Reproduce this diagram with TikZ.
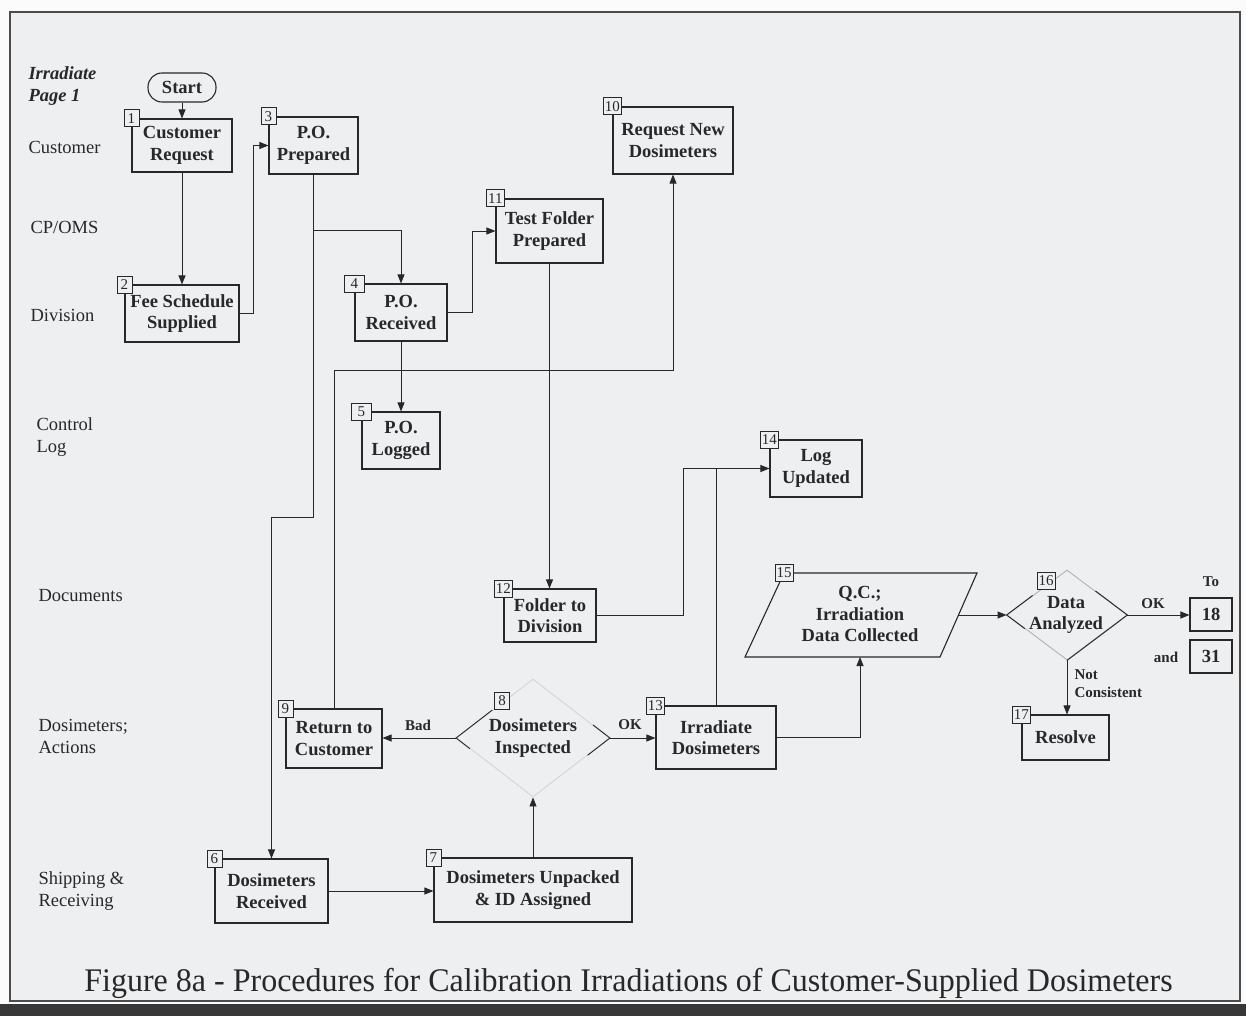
\documentclass[tikz,border=0pt]{standalone}
\usepackage{fontspec}
\setmainfont{Liberation Serif}
\usetikzlibrary{shapes.geometric,arrows.meta,calc}
\definecolor{bg}{RGB}{238,239,241}
\definecolor{ink}{RGB}{40,40,40}
\definecolor{faint}{RGB}{212,213,215}
\tikzset{
  box/.style={draw=ink, line width=1.1pt, fill=bg, align=center, inner sep=0pt,
    text=ink, font=\bfseries\fontsize{18.5}{21.5}\selectfont},
  numlbl/.style={draw=ink, line width=0.9pt, fill=bg, inner sep=1.5pt, minimum height=17pt,
    minimum width=15pt, text=ink, font=\fontsize{15}{15}\selectfont},
  lane/.style={anchor=west, align=left, text=ink, font=\fontsize{18.5}{22}\selectfont},
  elbl/.style={text=ink, font=\bfseries\fontsize{15}{18}\selectfont},
  conn/.style={draw=ink, line width=0.9pt, -{Triangle[length=9pt,width=7pt]}},
  plain/.style={draw=ink, line width=0.9pt},
  dshape/.style={diamond, draw=faint, line width=0.9pt, inner sep=0pt},
}
\begin{document}
\begin{tikzpicture}[x=1pt,y=-1pt]
\useasboundingbox (0,0) rectangle (1246,1016);
\fill[white!97!gray] (0,0) rectangle (1246,1016);
\fill[bg] (10,12) rectangle (1240,1001);
\draw[line width=2.5pt, black!70] (10,12) rectangle (1240,1001);
\fill[black!78] (0,1004) rectangle (1246,1016);

% lane labels
\node[lane, font=\bfseries\itshape\fontsize{18.5}{22}\selectfont] (l0) at (25,86) {Irradiate\\Page 1};
\node[lane] (l1) at (25,147) {Customer};
\node[lane] (l2) at (27,227) {CP/OMS};
\node[lane] (l3) at (27,315) {Division};
\node[lane] (l4) at (33,437) {Control\\Log};
\node[lane] (l5) at (35,596) {Documents};
\node[lane] (l6) at (35,736) {Dosimeters;\\Actions};
\node[lane] (l7) at (35,891) {Shipping \&\\Receiving};

% boxes
\node[box, rounded corners=14pt, minimum width=68pt, minimum height=29pt] (st) at (182,87.5) {Start};
\node[box, minimum width=100pt, minimum height=53pt] (b1) at (182,145.5) {Customer\\Request};
\node[box, minimum width=89pt, minimum height=57pt] (b3) at (313.5,145.5) {P.O.\\Prepared};
\node[box, minimum width=114pt, minimum height=57pt] (b2) at (182,313.5) {Fee Schedule\\Supplied};
\node[box, minimum width=92pt, minimum height=57pt] (b4) at (401,312.5) {P.O.\\Received};
\node[box, minimum width=78pt, minimum height=57pt] (b5) at (401,440.5) {P.O.\\Logged};
\node[box, minimum width=120pt, minimum height=67pt] (b10) at (673,140.5) {Request New\\Dosimeters};
\node[box, minimum width=107pt, minimum height=64pt] (b11) at (549.5,231) {Test Folder\\Prepared};
\node[box, minimum width=92pt, minimum height=53pt] (b12) at (550,615.5) {Folder to\\Division};
\node[box, minimum width=92pt, minimum height=57pt] (b14) at (816,468.5) {Log\\Updated};
\node[box, minimum width=120pt, minimum height=63pt] (b13) at (716,737.5) {Irradiate\\Dosimeters};
\node[box, minimum width=96pt, minimum height=59pt] (b9) at (334,738.5) {Return to\\Customer};
\node[box, minimum width=113pt, minimum height=64pt] (b6) at (271.5,891) {Dosimeters\\Received};
\node[box, minimum width=198pt, minimum height=64pt] (b7) at (533,890) {Dosimeters Unpacked\\\& ID Assigned};
\node[box, minimum width=87pt, minimum height=45pt] (b17) at (1065.5,737.5) {Resolve};
\node[box, minimum width=42pt, minimum height=33pt] (b18) at (1211,614.5) {18};
\node[box, minimum width=42pt, minimum height=33pt] (b31) at (1211,656.5) {31};

% parallelogram 15
\coordinate (p15a) at (784,573);
\coordinate (p15b) at (977,573);
\coordinate (p15c) at (940,657);
\coordinate (p15d) at (745,657);
\draw[ink, line width=1.1pt, fill=bg] (p15a) -- (p15b) -- (p15c) -- (p15d) -- cycle;
\node[box, draw=none, fill=none] (t15) at (860,614) {Q.C.;\\Irradiation\\Data Collected};
\coordinate (p15in) at (860,657);
\coordinate (p15out) at (958,615);

% diamonds
\node[dshape, minimum width=153pt, minimum height=118pt] (d8) at (533,738) {};
\node[box, draw=none, fill=none] (t8) at (533,738) {Dosimeters\\Inspected};
\draw[ink, line width=0.9pt] ($(d8.west)!0.47!(d8.north)$) -- (d8.west) -- ($(d8.west)!0.18!(d8.south)$);
\draw[ink, line width=0.9pt] ($(d8.east)!0.22!(d8.north)$) -- (d8.east) -- ($(d8.east)!0.29!(d8.south)$);

\node[dshape, draw=faint!80!ink, minimum width=120pt, minimum height=90pt] (d16) at (1067,615) {};
\node[box, draw=none, fill=none] (t16) at (1066,615) {Data\\Analyzed};
\draw[ink, line width=0.9pt] ($(d16.west)!0.43!(d16.north)$) -- (d16.west) -- ($(d16.west)!0.3!(d16.south)$);
\draw[ink, line width=0.9pt] ($(d16.east)!0.53!(d16.north)$) -- (d16.east) -- (d16.south);

% number labels
\node[numlbl] (n1) at (b1.north west) {1};
\node[numlbl] (n2) at (b2.north west) {2};
\node[numlbl] (n3) at (b3.north west) {3};
\node[numlbl, minimum width=20pt] (n4) at (b4.north west) {4};
\node[numlbl, minimum width=20pt] (n5) at (b5.north west) {5};
\node[numlbl] (n6) at (b6.north west) {6};
\node[numlbl] (n7) at (b7.north west) {7};
\node[numlbl] (n8) at (502,701) {8};
\node[numlbl] (n9) at (b9.north west) {9};
\node[numlbl] (n10) at (b10.north west) {10};
\node[numlbl] (n11) at (b11.north west) {11};
\node[numlbl] (n12) at (b12.north west) {12};
\node[numlbl] (n13) at (b13.north west) {13};
\node[numlbl] (n14) at (b14.north west) {14};
\node[numlbl] (n15) at (p15a) {15};
\node[numlbl] (n16) at (1046,581) {16};
\node[numlbl] (n17) at (b17.north west) {17};

% connectors
\draw[conn] (st) -- (b1);
\draw[conn] (b1) -- (b2);
\draw[conn] (b2.east) -- ++(14,0) |- (b3.west);
\draw[conn] (b3.south) -- ++(0,56) -| (b4.north);
\draw[conn] (b3.south) -- (b3.south |- 0,517) -| (b6.north);
\draw[conn] (b4) -- (b5);
\draw[conn] (b4.east) -- ++(25,0) |- (b11.west);
\draw[conn] (b11.south) -- (b11.south |- b12.north);
\draw[conn] (b12.east) -- ++(87,0) |- (b14.west);
\draw[plain] (b13.north) -- (b13.north |- b14.west);
\draw[conn] (b13.east) -| (p15in);
\draw[conn] (p15out) -- (d16.west);
\draw[conn] (d16.east) -- (d16.east -| b18.west);
\draw[conn] (d16.south) -- (d16.south |- b17.north);
\draw[conn] (d8.west) -- (d8.west -| b9.east);
\draw[conn] (d8.east) -- (d8.east -| b13.west);
\draw[conn] (b7.north) -- (d8.south);
\draw[conn] (b6.east) -- (b6.east -| b7.west);
\draw[conn] (b9.north) -- (b9.north |- 0,370) -| (b10.south);

% edge labels
\node[elbl] (lbad) at (418,725) {Bad};
\node[elbl] (lok1) at (630,725) {OK};
\node[elbl] (lok2) at (1153,604) {OK};
\node[elbl] (lto) at (1211,582) {To};
\node[elbl] (land) at (1166,657) {and};
\node[elbl, anchor=north west, align=left] (lnc) at (1071,666) {Not\\Consistent};

% caption
\node[text=ink, anchor=base, inner sep=0pt, font=\fontsize{33}{33}\selectfont] (cap) at (628.5,991)
  {\scalebox{0.97}[1]{Figure 8a - Procedures for Calibration Irradiations of Customer-Supplied Dosimeters}};
\end{tikzpicture}
\end{document}
